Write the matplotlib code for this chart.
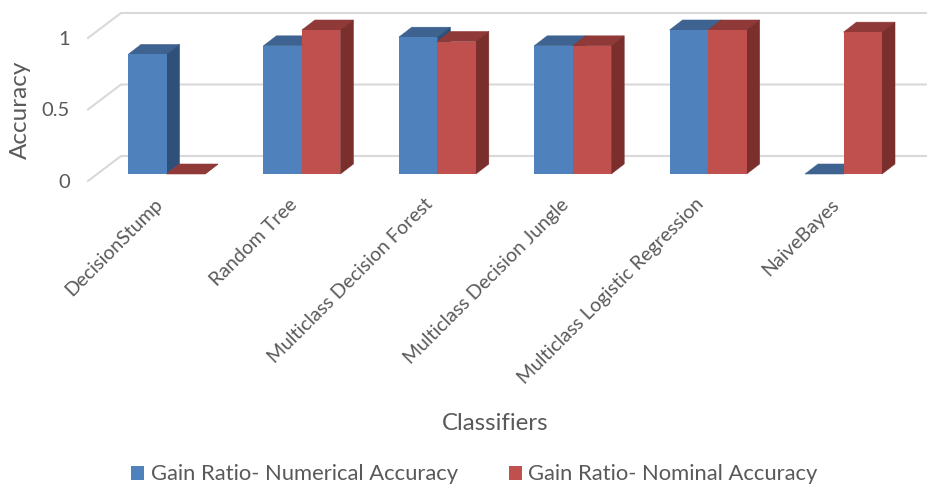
import matplotlib
matplotlib.use("Agg")
import matplotlib.pyplot as plt
from matplotlib.patches import Patch
from matplotlib.transforms import ScaledTranslation

plt.rcParams["font.family"] = ["Lato", "DejaVu Sans"]

classifiers = [
    "DecisionStump",
    "Random Tree",
    "Multiclass Decision Forest",
    "Multiclass Decision Jungle",
    "Multiclass Logistic Regression",
    "NaiveBayes",
]
numerical = [0.83, 0.89, 0.95, 0.89, 1.0, 0.0]
nominal = [0.0, 1.0, 0.92, 0.89, 1.0, 0.985]
y_ticks = [0, 0.5, 1]
y_ticklabels = ["0", "0.5", "1"]

W, H = 927, 487
TEXT = "#595959"
GRID = "#d9d9d9"
BLUE = ("#4f81bd", "#3e6390", "#2f5078")
RED = ("#c0504d", "#8f3a38", "#7b2f2d")

# pixel geometry of the fake 3D box
PX_UNIT = 135.4
PX_VAL = 144.0
LEFT, RIGHT, TOP, BOTTOM = 88, 927, 13, 181
X0_PX, Y0_PX = 166.5, 174
BAR_W = 38.5 / PX_UNIT
DX, DY = 13 / PX_UNIT, 10 / PX_VAL       # bar depth
WALL_DX, WALL_DY = 33 / PX_UNIT, 25 / PX_VAL  # wall depth


def front_y(v):
    # where value v sits on the front edge of the floor
    return v * 143 / PX_VAL - 7 / PX_VAL


def draw_bar(ax, x, v, colors, z):
    # top and side faces first, front on top to hide the seams
    ax.fill([x, x + BAR_W, x + BAR_W + DX, x + DX], [v, v, v + DY, v + DY],
            color=colors[1], lw=0.4, zorder=z)
    ax.fill([x + BAR_W, x + BAR_W + DX, x + BAR_W + DX, x + BAR_W], [0, DY, v + DY, v],
            color=colors[2], lw=0.4, zorder=z)
    ax.bar(x, v, width=BAR_W, align="edge", color=colors[0], edgecolor="none", zorder=z)


fig = plt.figure(figsize=(W / 100, H / 100), dpi=100)
ax = fig.add_axes([LEFT / W, 1 - BOTTOM / H, (RIGHT - LEFT) / W, (BOTTOM - TOP) / H])
ax.set_xlim((LEFT - X0_PX) / PX_UNIT, (RIGHT - X0_PX) / PX_UNIT)
ax.set_ylim((Y0_PX - BOTTOM) / PX_VAL, (Y0_PX - TOP) / PX_VAL)
for s in ax.spines.values():
    s.set_visible(False)

# back wall gridlines with the slanted floor part
x_left, x_right = ax.get_xlim()
for v in y_ticks:
    yf = front_y(v)
    ax.plot([x_left, x_left + WALL_DX, x_right], [yf, yf + WALL_DY, yf + WALL_DY],
            color=GRID, lw=1.5, zorder=1, clip_on=False, solid_joinstyle="round")

z = 2
for i in range(len(classifiers)):
    draw_bar(ax, i - BAR_W, numerical[i], BLUE, z)
    draw_bar(ax, i, nominal[i], RED, z + 1)
    z += 2

ax.set_xticks(range(len(classifiers)))
ax.set_xticklabels(classifiers, rotation=45, ha="right", va="top", rotation_mode="anchor",
                   fontsize=14, color=TEXT)
ax.tick_params(axis="x", length=0, pad=10.5)
# labels sit left of the group centre in the original
shift = ScaledTranslation(-13 / 100, 0, fig.dpi_scale_trans)
for lab in ax.get_xticklabels():
    lab.set_transform(lab.get_transform() + shift)
ax.set_yticks([front_y(v) for v in y_ticks])
ax.set_yticklabels(y_ticklabels, fontsize=14.5, color=TEXT)
ax.tick_params(axis="y", length=0, pad=13)

fig.text(20 / W, 1 - 110 / H, "Accuracy", rotation=90, ha="center", va="center",
         fontsize=17.5, color=TEXT)
fig.text(495 / W, 1 - 424 / H, "Classifiers", ha="center", va="center",
         fontsize=17.3, color=TEXT)

handles = [Patch(facecolor=BLUE[0], label="Gain Ratio- Numerical Accuracy"),
           Patch(facecolor=RED[0], label="Gain Ratio- Nominal Accuracy")]
fig.legend(handles=handles, loc="center", bbox_to_anchor=(474.5 / W, 1 - 474.5 / H), ncol=2,
           frameon=False, fontsize=15.8, labelcolor=TEXT, handlelength=0.6, handleheight=0.6,
           handletextpad=0.3, columnspacing=2.3)

fig.savefig("out.png", dpi=100)
